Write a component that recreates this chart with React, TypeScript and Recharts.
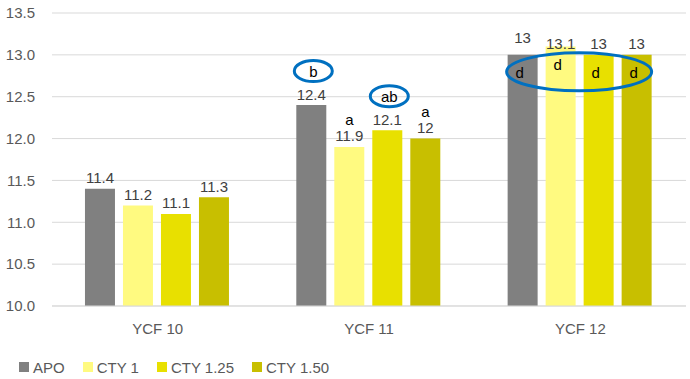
import { BarChart, Bar, XAxis, YAxis, CartesianGrid, Legend, LabelList } from 'recharts';

const CATEGORIES = ['YCF 10', 'YCF 11', 'YCF 12'];
const APO = [11.4, 12.4, 13];
const CTY_1 = [11.2, 11.9, 13.1];
const CTY_125 = [11.1, 12.1, 13];
const CTY_150 = [11.3, 12, 13];
const Y_TICKS = [10, 10.5, 11, 11.5, 12, 12.5, 13, 13.5];

// letras de significancia sobre cada barra
const APO_LETTERS = ['', 'b', 'd'];
const CTY_1_LETTERS = ['', 'a', 'd'];
const CTY_125_LETTERS = ['', 'ab', 'd'];
const CTY_150_LETTERS = ['', 'a', 'd'];
const APO_CIRCLED = [false, true, false];
const CTY_125_CIRCLED = [false, true, false];
// en este grupo las letras van dentro de la barra y un solo óvalo las encierra
const GROUP_CIRCLED = 'YCF 12';

const BLUE = '#0070C0';
const FONT = "'Liberation Sans', Arial, sans-serif";
const FS = 15;

const data = CATEGORIES.map((cat, i) => ({
  cat,
  apo: APO[i],
  cty1: CTY_1[i],
  cty125: CTY_125[i],
  cty150: CTY_150[i],
}));

interface SeriesDef {
  key: string;
  name: string;
  color: string;
  values: number[];
  letters: string[];
  circled: boolean[];
  nudge: number; // ajuste manual de la etiqueta en el grupo con óvalo
}

const SERIES: SeriesDef[] = [
  { key: 'apo', name: 'APO', color: '#808080', values: APO, letters: APO_LETTERS, circled: APO_CIRCLED, nudge: -6 },
  { key: 'cty1', name: 'CTY 1', color: '#FFFA80', values: CTY_1, letters: CTY_1_LETTERS, circled: [false, false, false], nudge: 8 },
  { key: 'cty125', name: 'CTY 1.25', color: '#E8E000', values: CTY_125, letters: CTY_125_LETTERS, circled: CTY_125_CIRCLED, nudge: 0 },
  { key: 'cty150', name: 'CTY 1.50', color: '#C8BF00', values: CTY_150, letters: CTY_150_LETTERS, circled: [false, false, false], nudge: 0 },
];

const makeLabel = (s: SeriesDef, last: boolean) => (props: any) => {
  const vb = props.viewBox ?? props;
  const { x, y, width } = vb;
  const i = CATEGORIES.indexOf(props.value);
  if (i < 0) return null;
  const cx = x + width / 2;
  const inGroup = CATEGORIES[i] === GROUP_CIRCLED;
  const valueY = y - 11 + (inGroup ? s.nudge : 0);
  const letter = s.letters[i];
  return (
    <g>
      <text x={cx} y={valueY} textAnchor="middle" dominantBaseline="central" fill="#404040" fontSize={FS} fontFamily={FONT}>
        {s.values[i]}
      </text>
      {letter && inGroup && (
        <text x={cx - 3} y={y + 18} textAnchor="middle" dominantBaseline="central" fill="#000" fontSize={FS} fontFamily={FONT}>
          {letter}
        </text>
      )}
      {letter && !inGroup && !s.circled[i] && (
        <text x={cx} y={valueY - 16} textAnchor="middle" dominantBaseline="central" fill="#000" fontSize={FS} fontFamily={FONT}>
          {letter}
        </text>
      )}
      {letter && !inGroup && s.circled[i] && (
        <g>
          <ellipse cx={cx + 2} cy={valueY - 23} rx={19} ry={10.5} fill="none" stroke={BLUE} strokeWidth={3} />
          <text x={cx + 2} y={valueY - 23} textAnchor="middle" dominantBaseline="central" fill="#000" fontSize={FS} fontFamily={FONT}>
            {letter}
          </text>
        </g>
      )}
      {last && inGroup && (
        <ellipse cx={x + width - 72.5} cy={y + 17} rx={72.5} ry={19} fill="none" stroke={BLUE} strokeWidth={3} />
      )}
    </g>
  );
};

const renderLegend = () => (
  <div style={{ width: 690, height: 43, paddingTop: 22, boxSizing: 'border-box', display: 'flex', paddingLeft: 19, fontFamily: FONT, fontSize: FS, color: '#595959' }}>
    {SERIES.map((s) => (
      <div key={s.key} style={{ display: 'flex', alignItems: 'center', marginRight: 18, height: 18 }}>
        <span style={{ width: 10, height: 10, background: s.color, marginRight: 4, display: 'inline-block' }} />
        <span>{s.name}</span>
      </div>
    ))}
  </div>
);

export default function App() {
  return (
    <div style={{ position: 'absolute', left: 0, top: 0, width: 690, height: 379, background: '#fff' }}>
      <BarChart
        width={690}
        height={379}
        data={data}
        margin={{ top: 13, right: 4, bottom: 0, left: 0 }}
        barCategoryGap="15.6%"
        barGap={8}
      >
        <CartesianGrid vertical={false} stroke="#d9d9d9" strokeWidth={1} />
        <XAxis
          dataKey="cat"
          height={30}
          axisLine={{ stroke: '#d9d9d9' }}
          tickLine={false}
          tickMargin={11}
          tick={{ fill: '#595959', fontSize: FS, fontFamily: FONT }}
        />
        <YAxis
          width={52}
          domain={[10, 13.5]}
          ticks={Y_TICKS}
          tickFormatter={(v: number) => v.toFixed(1)}
          axisLine={false}
          tickLine={false}
          tickSize={0}
          tickMargin={17}
          tick={{ fill: '#595959', fontSize: FS, fontFamily: FONT }}
        />
        <Legend verticalAlign="bottom" content={renderLegend} wrapperStyle={{ left: 0, bottom: 0 }} />
        {SERIES.map((s, idx) => (
          <Bar key={s.key} dataKey={s.key} name={s.name} fill={s.color} isAnimationActive={false}>
            <LabelList dataKey="cat" content={makeLabel(s, idx === SERIES.length - 1)} />
          </Bar>
        ))}
      </BarChart>
    </div>
  );
}
